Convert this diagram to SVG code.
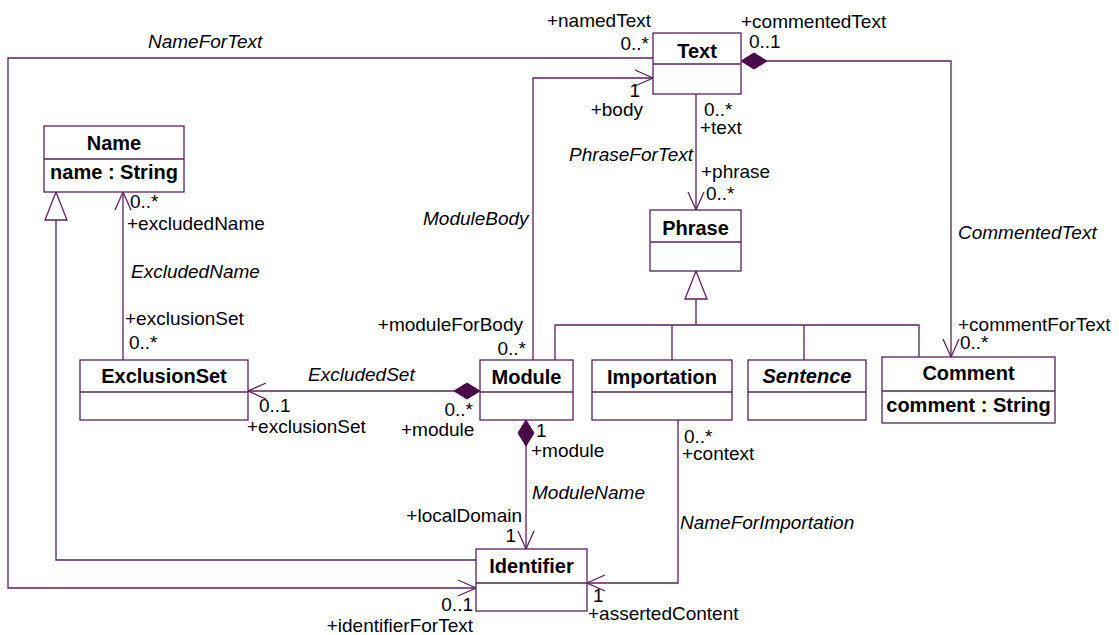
<svg xmlns="http://www.w3.org/2000/svg" width="1119" height="635" viewBox="0 0 1119 635">
<style>
.box{fill:#fff;stroke:#5b1f5b;stroke-width:1.3}
.sep{stroke:#5b1f5b;stroke-width:1.3}
.ln{fill:none;stroke:#5b1f5b;stroke-width:1.3}
text{font-family:"Liberation Sans",Arial,sans-serif;fill:#000}
.t{font-size:20px;font-weight:bold;text-anchor:middle}
.r{font-size:19px}
.i{font-size:19px;font-style:italic}
.e{text-anchor:end}
</style>
<defs>
<marker id="arr" markerUnits="userSpaceOnUse" viewBox="-20 -10 22 20" refX="0" refY="0" markerWidth="22" markerHeight="20" orient="auto">
<path d="M-18,-8 L0,0 L-18,8" fill="none" stroke="#5b1f5b" stroke-width="1.3"/>
</marker>
<marker id="dia" markerUnits="userSpaceOnUse" viewBox="-1 -10 30 20" refX="0" refY="0" markerWidth="30" markerHeight="20" orient="auto">
<path d="M0,0 L13,-8 L26,0 L13,8 Z" fill="#4a0a4a" stroke="#4a0a4a" stroke-width="1"/>
</marker>
<marker id="tri" markerUnits="userSpaceOnUse" viewBox="-30 -13 32 26" refX="0" refY="0" markerWidth="32" markerHeight="26" orient="auto">
<path d="M0,0 L-28,-11 L-28,11 Z" fill="#fff" stroke="#5b1f5b" stroke-width="1.3"/>
</marker>
</defs>

<g id="connectors">
<path class="ln" d="M653,58 H8 V588 H476" marker-end="url(#arr)"/>
<path class="ln" d="M476,560 H56 V192" marker-end="url(#tri)"/>
<path class="ln" d="M123,360 V192" marker-end="url(#arr)"/>
<path class="ln" d="M480,391 H248" marker-start="url(#dia)" marker-end="url(#arr)"/>
<path class="ln" d="M533,360 V78 H653" marker-end="url(#arr)"/>
<path class="ln" d="M696,94 V210" marker-end="url(#arr)"/>
<path class="ln" d="M741,61 H951 V357" marker-start="url(#dia)" marker-end="url(#arr)"/>
<path class="ln" d="M526,420 V549" marker-start="url(#dia)" marker-end="url(#arr)"/>
<path class="ln" d="M678,420 V583 H587" marker-end="url(#arr)"/>
<path class="ln" d="M555,360 V325 H919 V357 M672,325 V360 M804,325 V360"/>
<path class="ln" d="M696,325 V271" marker-end="url(#tri)"/>
</g>

<g id="labels">
<text class="i" x="148" y="48">NameForText</text>
<text class="r e" x="651" y="27">+namedText</text>
<text class="r e" x="649" y="50">0..*</text>
<text class="r" x="741" y="28">+commentedText</text>
<text class="r" x="749" y="48">0..1</text>
<text class="r e" x="640" y="97">1</text>
<text class="r e" x="643" y="116">+body</text>
<text class="r" x="704" y="116">0..*</text>
<text class="r" x="700" y="134">+text</text>
<text class="i e" x="693" y="161">PhraseForText</text>
<text class="r" x="701" y="178">+phrase</text>
<text class="r" x="706" y="200">0..*</text>
<text class="i" x="423" y="225">ModuleBody</text>
<text class="i" x="958" y="239">CommentedText</text>
<text class="r" x="958" y="331">+commentForText</text>
<text class="r" x="960" y="349">0..*</text>
<text class="r" x="130" y="208">0..*</text>
<text class="r" x="127" y="230">+excludedName</text>
<text class="i" x="131" y="278">ExcludedName</text>
<text class="r" x="125" y="325">+exclusionSet</text>
<text class="r" x="129" y="349">0..*</text>
<text class="r e" x="523" y="331">+moduleForBody</text>
<text class="r e" x="526" y="355">0..*</text>
<text class="i" x="308" y="381">ExcludedSet</text>
<text class="r" x="259" y="412">0..1</text>
<text class="r" x="247" y="433">+exclusionSet</text>
<text class="r e" x="473" y="416">0..*</text>
<text class="r" x="401" y="436">+module</text>
<text class="r" x="536" y="437">1</text>
<text class="r" x="531" y="457">+module</text>
<text class="r" x="684" y="443">0..*</text>
<text class="r" x="682" y="460">+context</text>
<text class="i" x="532" y="499">ModuleName</text>
<text class="r e" x="522" y="522">+localDomain</text>
<text class="r e" x="516" y="542">1</text>
<text class="i" x="680" y="529">NameForImportation</text>
<text class="r e" x="473" y="611">0..1</text>
<text class="r e" x="473" y="632">+identifierForText</text>
<text class="r" x="593" y="602">1</text>
<text class="r" x="588" y="620">+assertedContent</text>
</g>

<g id="Text">
<rect class="box" x="653" y="33" width="88" height="61"/>
<line class="sep" x1="653" y1="64" x2="741" y2="64"/>
<text class="t" x="697" y="58">Text</text>
</g>
<g id="Name">
<rect class="box" x="44" y="126" width="140" height="66"/>
<line class="sep" x1="44" y1="159" x2="184" y2="159"/>
<text class="t" x="114" y="150">Name</text>
<text class="t" x="114" y="179">name : String</text>
</g>
<g id="Phrase">
<rect class="box" x="650" y="210" width="91" height="61"/>
<line class="sep" x1="650" y1="242" x2="741" y2="242"/>
<text class="t" x="695.5" y="235">Phrase</text>
</g>
<g id="ExclusionSet">
<rect class="box" x="80" y="360" width="168" height="60"/>
<line class="sep" x1="80" y1="392" x2="248" y2="392"/>
<text class="t" x="164" y="383">ExclusionSet</text>
</g>
<g id="Module">
<rect class="box" x="480" y="360" width="93" height="60"/>
<line class="sep" x1="480" y1="392" x2="573" y2="392"/>
<text class="t" x="526.5" y="384">Module</text>
</g>
<g id="Importation">
<rect class="box" x="592" y="360" width="140" height="60"/>
<line class="sep" x1="592" y1="392" x2="732" y2="392"/>
<text class="t" x="662" y="384">Importation</text>
</g>
<g id="Sentence">
<rect class="box" x="748" y="360" width="118" height="60"/>
<line class="sep" x1="748" y1="392" x2="866" y2="392"/>
<text class="t" x="807" y="383" font-style="italic">Sentence</text>
</g>
<g id="Comment">
<rect class="box" x="882" y="357" width="173" height="66"/>
<line class="sep" x1="882" y1="391" x2="1055" y2="391"/>
<text class="t" x="968.5" y="380">Comment</text>
<text class="t" x="968.5" y="412">comment : String</text>
</g>
<g id="Identifier">
<rect class="box" x="476" y="549" width="111" height="62"/>
<line class="sep" x1="476" y1="583" x2="587" y2="583"/>
<text class="t" x="531.5" y="573">Identifier</text>
</g>
</svg>
